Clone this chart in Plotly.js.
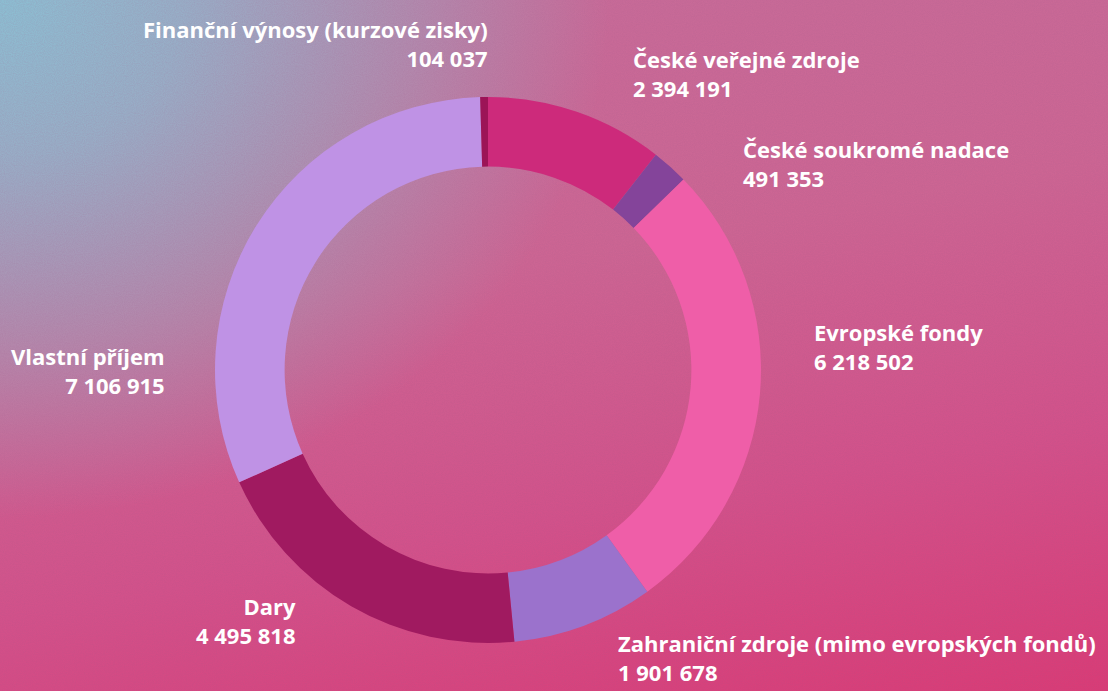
<!DOCTYPE html>
<html>
<head>
<meta charset="utf-8">
<script src="https://cdn.plot.ly/plotly-3.0.1.min.js"></script>
<style>
html, body { margin:0; padding:0; width:1108px; height:691px; overflow:hidden; }
body {
  background:
    radial-gradient(ellipse 55% 75% at 0% 0%, rgba(140,190,210,1) 0%, rgba(140,190,210,0.8) 30%, rgba(140,190,210,0) 100%),
    linear-gradient(170deg, #c56d9a 0%, #cc6593 40%, #d2518a 70%, #d93b76 100%);
}
#noise { position:absolute; left:0; top:0; width:1108px; height:691px; pointer-events:none; opacity:0.2; }
#chart { position:absolute; left:0; top:0; width:1108px; height:691px; }
</style>
</head>
<body>
<svg id="noise" xmlns="http://www.w3.org/2000/svg">
  <filter id="n"><feTurbulence type="fractalNoise" baseFrequency="0.9" numOctaves="2" seed="3"/><feColorMatrix values="0 0 0 0 0.35  0 0 0 0 0.1  0 0 0 0 0.25  0 0 0 1.2 -0.35"/></filter>
  <rect width="100%" height="100%" filter="url(#n)"/>
</svg>
<div id="chart"></div>
<script>
// Data
const labels = [
  "České veřejné zdroje",
  "České soukromé nadace",
  "Evropské fondy",
  "Zahraniční zdroje (mimo evropských fondů)",
  "Dary",
  "Vlastní příjem",
  "Finanční výnosy (kurzové zisky)"
];
const values = [2394191, 491353, 6218502, 1901678, 4495818, 7106915, 104037];
const colors = ["#cd2a7b", "#84449a", "#ef5ea8", "#9b72cc", "#a01a60", "#bf92e5", "#9c1457"];

// Label placement: x anchor and vertical centre of the two-line block (pixels), alignment
const labelPos = [
  {x: 632, y: 73,  side: "left"},
  {x: 742, y: 163, side: "left"},
  {x: 813, y: 346, side: "left"},
  {x: 617, y: 657, side: "left"},
  {x: 297, y: 620, side: "right"},
  {x: 166, y: 370, side: "right"},
  {x: 489, y: 43,  side: "right"}
];

const W = 1108, H = 691;
function fmt(v) { return String(v).replace(/\B(?=(\d{3})+(?!\d))/g, " "); }

const font = {family: "'Open Sans', sans-serif", size: 22, color: "#ffffff", weight: 700};
const annotations = labels.map((lab, i) => ({
  xref: "paper", yref: "paper",
  x: labelPos[i].x / W, y: 1 - labelPos[i].y / H,
  xanchor: labelPos[i].side, yanchor: "middle", align: labelPos[i].side,
  showarrow: false, borderpad: 0,
  text: lab + "<br>" + fmt(values[i]),
  font: font
}));

const cx = 488, cy = 370, r = 273;
const trace = {
  type: "pie",
  labels: labels,
  values: values,
  hole: 0.745,
  sort: false,
  direction: "clockwise",
  rotation: 0,
  textinfo: "none",
  hoverinfo: "label+value",
  marker: {colors: colors, line: {width: 0}},
  domain: {x: [(cx - r) / W, (cx + r) / W], y: [(H - cy - r) / H, (H - cy + r) / H]}
};

Plotly.newPlot("chart", [trace], {
  width: W, height: H,
  margin: {l: 0, r: 0, t: 0, b: 0},
  paper_bgcolor: "rgba(0,0,0,0)",
  plot_bgcolor: "rgba(0,0,0,0)",
  showlegend: false,
  separators: ", ",
  annotations: annotations
}, {displayModeBar: false, staticPlot: true});
</script>
</body>
</html>
